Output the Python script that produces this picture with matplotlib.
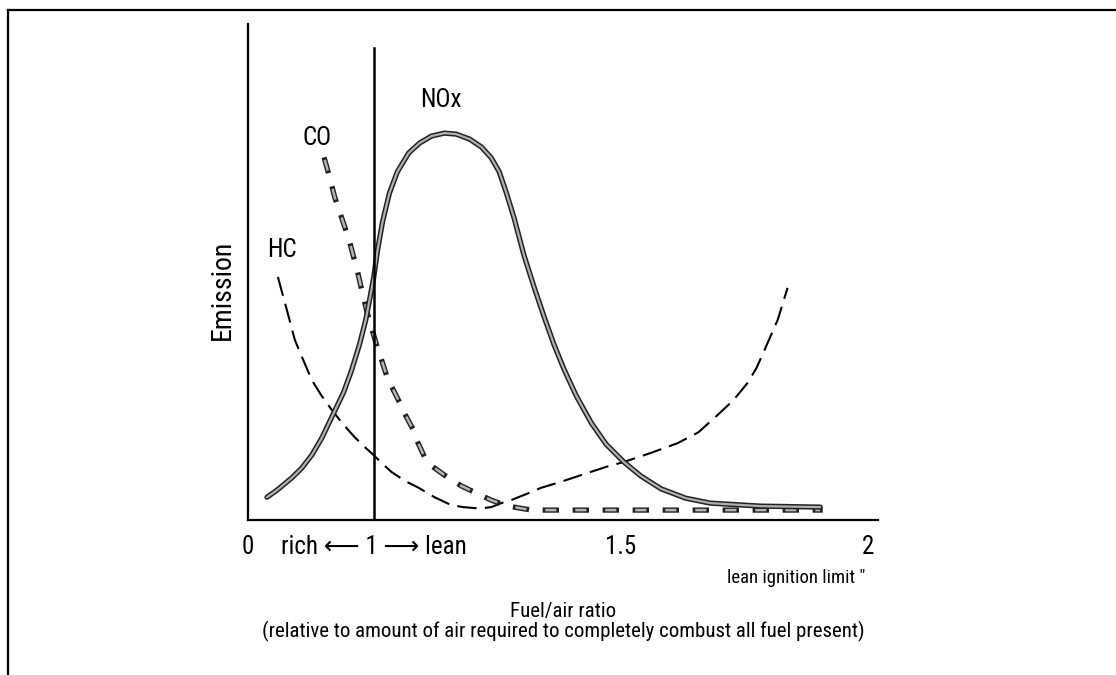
import matplotlib
matplotlib.use("Agg")
import matplotlib.pyplot as plt
from matplotlib import font_manager
from matplotlib.lines import Line2D
import numpy as np

# pick a narrow sans if there is one
_names = {f.name for f in font_manager.fontManager.ttflist}
FONT = next((n for n in ["Liberation Sans Narrow", "Roboto Condensed", "Liberation Sans"] if n in _names), "DejaVu Sans")
plt.rcParams["font.family"] = [FONT, "DejaVu Sans"]
plt.rcParams["lines.scale_dashes"] = False

# Data (x = fuel/air ratio lambda, y = emission in % of axis height)
nox_x = [0.151, 0.230, 0.349, 0.429, 0.508, 0.587, 0.683, 0.762, 0.825, 0.889, 0.937, 0.968,
         1.000, 1.008, 1.018, 1.032, 1.048, 1.071, 1.093, 1.117, 1.143, 1.167, 1.194, 1.218,
         1.238, 1.254, 1.268, 1.284, 1.304, 1.325, 1.345, 1.365, 1.385, 1.409, 1.440, 1.470,
         1.506, 1.540, 1.581, 1.631, 1.681, 1.782, 1.903]
nox_y = [4.6, 6.0, 8.5, 10.5, 13.1, 16.5, 21.6, 25.8, 30.2, 35.5, 40.3, 44.4,
         48.8, 54.4, 60.1, 65.9, 70.2, 74.0, 76.0, 77.4, 78.0, 77.8, 76.8, 75.2,
         73.0, 70.2, 66.1, 60.9, 53.4, 46.8, 40.9, 35.3, 30.4, 25.2, 19.6, 15.3,
         11.7, 8.9, 6.3, 4.4, 3.4, 2.8, 2.6]

co_x = [0.611, 0.651, 0.690, 0.730, 0.770, 0.810, 0.841, 0.873, 0.905, 0.944, 0.984, 1.006,
        1.016, 1.026, 1.038, 1.050, 1.063, 1.077, 1.089, 1.103, 1.123, 1.151, 1.177, 1.208,
        1.238, 1.272, 1.319, 1.903]
co_y = [72.6, 69.0, 65.1, 62.1, 59.1, 56.0, 53.0, 50.0, 46.4, 42.3, 38.7, 35.3,
        32.3, 29.2, 26.6, 24.2, 21.4, 18.8, 15.7, 12.7, 10.5, 8.5, 6.9, 5.4,
        4.0, 2.8, 2.0, 2.0]

hc_x = [0.238, 0.270, 0.310, 0.341, 0.373, 0.429, 0.508, 0.587, 0.667, 0.754, 0.849, 0.921,
        1.000, 1.016, 1.036, 1.063, 1.091, 1.123, 1.157, 1.181, 1.204, 1.222, 1.238, 1.258,
        1.278, 1.308, 1.339, 1.379, 1.433, 1.470, 1.506, 1.560, 1.615, 1.657, 1.696, 1.728,
        1.756, 1.774, 1.788, 1.802, 1.817, 1.827, 1.837]
hc_y = [49.0, 46.0, 42.3, 39.3, 36.3, 32.9, 28.2, 25.0, 22.2, 19.4, 16.7, 14.9,
        13.1, 11.5, 9.7, 7.9, 6.5, 4.6, 3.0, 2.6, 2.4, 2.4, 2.6, 3.4,
        4.0, 5.2, 6.5, 7.7, 9.5, 10.7, 11.7, 13.5, 15.5, 17.7, 21.2, 24.2,
        27.6, 30.6, 33.7, 36.9, 40.3, 43.5, 46.8]

stoich_x = 1.0
stoich_top = 95.2

tick_pos = [0, 1, 1.5, 2]
tick_labels = ["0", "rich \u27f5 1 \u27f6 lean", "1.5", "2"]


# rich side of the axis is squeezed: 0..1 takes about a quarter of the 1..2 width
RICH = 126 / 496


def fwd(x):
    x = np.asarray(x, dtype=float)
    return np.where(x < 1, x * RICH, RICH + (x - 1))


def inv(u):
    u = np.asarray(u, dtype=float)
    return np.where(u < RICH, u / RICH, 1 + (u - RICH))


fig = plt.figure(figsize=(11.16, 6.75), dpi=100)
ax = fig.add_axes([248 / 1116, 1 - 520 / 675, 630 / 1116, 496 / 675])
ax.set_xscale("function", functions=(fwd, inv))
ax.set_xlim(0.016, 2.02)
ax.set_ylim(0, 100)

# HC: thin long dashes
ax.plot(hc_x, hc_y, color="black", lw=1.5, linestyle=(0, (14, 6)))

# CO: fat outlined dashes
co_dash = (0, (8, 13.6))
ax.plot(co_x, co_y, color="#222222", lw=3.8, linestyle=co_dash, dash_capstyle="projecting")
ax.plot(co_x, co_y, color="#b5b5b5", lw=1.8, linestyle=co_dash, dash_capstyle="butt")

# NOx: outlined solid line
ax.plot(nox_x, nox_y, color="#222222", lw=3.8, solid_capstyle="round", solid_joinstyle="round")
ax.plot(nox_x, nox_y, color="#b0b0b0", lw=1.6, solid_capstyle="round", solid_joinstyle="round")

# lambda = 1
ax.plot([stoich_x, stoich_x], [0, stoich_top], color="black", lw=1.8)

ax.text(1.137, 84.7, "NOx", fontsize=18, ha="center", va="center")
ax.text(0.548, 77.0, "CO", fontsize=18, ha="center", va="center")
ax.text(0.27, 54.4, "HC", fontsize=18, ha="center", va="center")

for s in ["top", "right"]:
    ax.spines[s].set_visible(False)
for s in ["left", "bottom"]:
    ax.spines[s].set_linewidth(1.6)
ax.set_yticks([])
ax.set_xticks(tick_pos)
ax.set_xticklabels(tick_labels, fontsize=18)
ax.tick_params(axis="x", length=0, pad=11)

ax.text(-0.041, 0.464, "Emission", rotation=90, fontsize=20, ha="center", va="center",
        transform=ax.transAxes)
ax.text(1.994, -0.117, "lean ignition limit \u2033", fontsize=13.5, ha="right", va="center",
        transform=ax.get_xaxis_transform())
ax.text(0.5, -0.2056,
        "Fuel/air ratio\n(relative to amount of air required to completely combust all fuel present)",
        fontsize=15, ha="center", va="center", linespacing=1.0, transform=ax.transAxes)

# frame of the scanned page
fig.add_artist(Line2D([8 / 1116, 8 / 1116], [0, 1 - 10 / 675], color="black", lw=1.6))
fig.add_artist(Line2D([8 / 1116, 1], [1 - 10 / 675, 1 - 10 / 675], color="black", lw=1.6))

fig.savefig("out.png", dpi=100)
